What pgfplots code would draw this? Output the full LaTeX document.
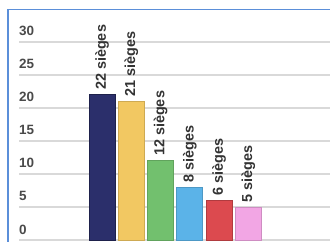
\documentclass[border=0pt]{standalone}
\usepackage{pgfplots}
\pgfplotsset{compat=1.18}
\usepackage{fontspec}
\setmainfont{Liberation Sans}
\definecolor{cnavy}{HTML}{2B2F6B}
\definecolor{cyellow}{HTML}{F2C862}
\definecolor{cgreen}{HTML}{72C06E}
\definecolor{cblue}{HTML}{5BB3E8}
\definecolor{cred}{HTML}{DC4A4F}
\definecolor{cpink}{HTML}{F2A6E4}
\definecolor{framecol}{HTML}{5B8FD9}
\definecolor{gridcol}{HTML}{D9D9D9}
\definecolor{tickcol}{HTML}{4A4A4A}
\definecolor{labcol}{HTML}{333333}
\begin{document}
\begin{tikzpicture}[x=1bp,y=1bp]
\useasboundingbox (0,0) rectangle (330,242);
\fill[white] (0,0) rectangle (330,242);
\begin{axis}[
  at={(19bp,0bp)}, anchor=south west,
  scale only axis, width=311bp, height=242bp,
  xmin=-1.838, xmax=8.795, ymin=-0.303, ymax=36.36,
  axis line style={draw=none},
  major tick length=0pt,
  xtick=\empty,
  ytick={0,5,...,30},
  ymajorgrids,
  grid style={line width=1.5bp, gridcol},
  /pgf/number format/assume math mode=true,
  yticklabel style={anchor=base west, inner sep=0pt, xshift=0bp, yshift=6bp,
    font=\fontsize{13.5}{13.5}\selectfont\bfseries, text=tickcol},
  ybar, bar width=26bp, bar shift=0pt,
  nodes near coords={\pgfmathprintnumber{\pgfplotspointmeta} sièges},
  nodes near coords style={rotate=90, anchor=west, inner sep=4.5bp,
    font=\fontsize{14.5}{14.5}\selectfont\bfseries, text=labcol},
  clip=false,
]
\addplot[fill=cnavy, draw=cnavy!70!black, line width=0.6bp] coordinates {(1,22)};
\addplot[fill=cyellow, draw=cyellow!85!black, line width=0.6bp] coordinates {(2,21)};
\addplot[fill=cgreen, draw=cgreen!85!black, line width=0.6bp] coordinates {(3,12)};
\addplot[fill=cblue, draw=cblue!85!black, line width=0.6bp] coordinates {(4,8)};
\addplot[fill=cred, draw=cred!80!black, line width=0.6bp] coordinates {(5,6)};
\addplot[fill=cpink, draw=cpink!85!black, line width=0.6bp] coordinates {(6,5)};
\end{axis}
\draw[framecol, line width=1.5bp] (8,0) -- (8,232.5) -- (330,232.5);
\end{tikzpicture}
\end{document}
